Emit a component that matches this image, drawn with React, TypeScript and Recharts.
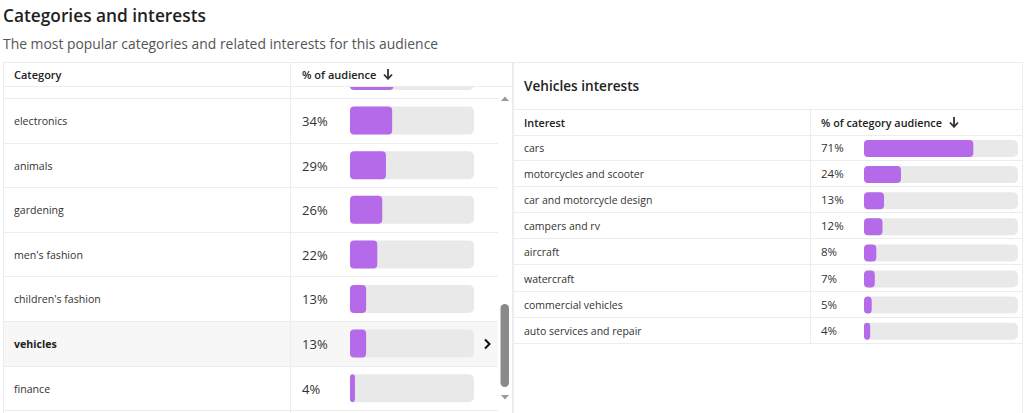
import { BarChart, Bar, XAxis, YAxis } from 'recharts'

// ─── Data ─────────────────────────────────────────────────────────────────────

// first entry is scrolled mostly out of view in the list (only its bar's bottom edge shows)
const categories = ['beauty', 'electronics', 'animals', 'gardening', "men's fashion", "children's fashion", 'vehicles', 'finance']
const categoryShare = [35, 34, 29, 26, 22, 13, 13, 4]
const scrolledOut = 1
const selectedCategory = 'vehicles'

const interests = [
  'cars', 'motorcycles and scooter', 'car and motorcycle design', 'campers and rv',
  'aircraft', 'watercraft', 'commercial vehicles', 'auto services and repair',
]
const interestShare = [71, 24, 13, 12, 8, 7, 5, 4]

// ─── Layout constants ─────────────────────────────────────────────────────────

const FONT = '"Open Sans", "Noto Sans", sans-serif'
const PURPLE = '#b46ae9'
const TRACK = '#e9e9e9'
const LINE = '#ececec'

const LEFT_ROW_H = 44.6
const LEFT_HEADER_BOTTOM = 86
const LEFT_FIRST_ROW = 54.4
const RIGHT_ROW_H = 26.1
const RIGHT_BODY_TOP = 135

// ─── Helpers ──────────────────────────────────────────────────────────────────

function SortArrow() {
  return (
    <svg width={10} height={12} viewBox="0 0 10 12" style={{ marginLeft: 7, flexShrink: 0 }}>
      <path d="M5 1 V10" stroke="#333" strokeWidth={1.8} />
      <path d="M1 6.5 L5 10.8 L9 6.5" stroke="#333" strokeWidth={1.8} fill="none" />
    </svg>
  )
}

function ShareBars({ data, width, height, barSize }: {
  data: { name: string; value: number }[]
  width: number
  height: number
  barSize: number
}) {
  return (
    <BarChart
      layout="vertical"
      data={data}
      width={width}
      height={height}
      margin={{ top: 0, right: 0, bottom: 0, left: 0 }}
    >
      <XAxis type="number" domain={[0, 100]} hide />
      <YAxis type="category" dataKey="name" hide />
      <Bar
        dataKey="value"
        fill={PURPLE}
        barSize={barSize}
        radius={4}
        background={{ fill: TRACK, radius: 5 } as any}
        isAnimationActive={false}
      />
    </BarChart>
  )
}

// ─── Component ────────────────────────────────────────────────────────────────

export default function App() {
  const leftData = categories.map((name, i) => ({ name, value: categoryShare[i] }))
  const rightData = interests.map((name, i) => ({ name, value: interestShare[i] }))

  const abs = (s: React.CSSProperties): React.CSSProperties => ({ position: 'absolute', ...s })
  const head: React.CSSProperties = { fontWeight: 600, color: '#222', display: 'flex', alignItems: 'center', whiteSpace: 'nowrap' }

  return (
    <div style={{
      position: 'fixed', left: 0, top: 0, width: 1024, height: 413, overflow: 'hidden',
      background: '#fff', fontFamily: FONT, color: '#333',
    }}>
      {/* heading */}
      <div style={abs({ left: 3, top: 2, fontSize: 17.3, fontWeight: 600, color: '#1f1f1f', lineHeight: '28px' })}>
        Categories and interests
      </div>
      <div style={abs({ left: 3, top: 32, fontSize: 13.9, color: '#555', lineHeight: '24px' })}>
        The most popular categories and related interests for this audience
      </div>

      {/* ── left table ── */}
      <div style={abs({ left: 3, top: 62, width: 510, height: 360, border: `1px solid ${LINE}`, boxSizing: 'border-box' })} />
      <div style={abs({ left: 14, top: 65, height: 18, fontSize: 11, ...head })}>Category</div>
      <div style={abs({ left: 302, top: 65, height: 18, fontSize: 11, ...head })}>% of audience<SortArrow /></div>
      <div style={abs({ left: 4, top: LEFT_HEADER_BOTTOM, width: 508, height: 1, background: LINE })} />

      <div style={abs({ left: 4, top: LEFT_HEADER_BOTTOM + 1, width: 494, height: 413 - LEFT_HEADER_BOTTOM, overflow: 'hidden' })}>
        {leftData.map((d, i) => {
          const selected = d.name === selectedCategory
          const visible = i >= scrolledOut
          return (
            <div key={d.name} style={abs({
              left: 0, top: LEFT_FIRST_ROW - LEFT_HEADER_BOTTOM - 1 + i * LEFT_ROW_H, width: 494, height: LEFT_ROW_H,
              background: selected ? '#f7f7f7' : 'transparent', borderBottom: `1px solid ${LINE}`, boxSizing: 'border-box',
            })}>
              {visible && (
                <>
                  <div style={abs({ left: 10, top: 0, lineHeight: `${LEFT_ROW_H}px`, fontSize: 10.6, fontWeight: selected ? 700 : 400, color: selected ? '#222' : '#333', whiteSpace: 'nowrap' })}>
                    {d.name}
                  </div>
                  <div style={abs({ left: 298, top: 0, lineHeight: `${LEFT_ROW_H}px`, fontSize: 13 })}>{d.value}%</div>
                </>
              )}
              {selected && (
                <svg style={{ position: 'absolute', left: 479, top: LEFT_ROW_H / 2 - 6 }} width={8} height={12} viewBox="0 0 8 12">
                  <path d="M2 1.5 L6.5 6 L2 10.5" stroke="#111" strokeWidth={2} fill="none" />
                </svg>
              )}
            </div>
          )
        })}
        <div style={abs({ left: 346, top: LEFT_FIRST_ROW - LEFT_HEADER_BOTTOM - 1 })}>
          <ShareBars data={leftData} width={124} height={LEFT_ROW_H * leftData.length} barSize={28} />
        </div>
      </div>
      <div style={abs({ left: 290, top: 63, width: 1, height: 350, background: LINE })} />

      {/* scrollbar */}
      <svg style={{ position: 'absolute', left: 498, top: 89 }} width={14} height={324}>
        <path d="M3 12 L7 7.5 L11 12 Z" fill="#999" />
        <rect x={2.5} y={215} width={8.5} height={83} rx={4.2} fill="#8a8a8a" />
        <path d="M3 306 L11 306 L7 310.5 Z" fill="#999" />
      </svg>

      {/* ── right table ── */}
      <div style={abs({ left: 513, top: 62, width: 510, height: 360, border: `1px solid ${LINE}`, boxSizing: 'border-box' })} />
      <div style={abs({ left: 524, top: 74, fontSize: 13.6, fontWeight: 600, color: '#222', lineHeight: '24px', whiteSpace: 'nowrap' })}>Vehicles interests</div>
      <div style={abs({ left: 514, top: 109, width: 508, height: 1, background: LINE })} />
      <div style={abs({ left: 524, top: 113, height: 18, fontSize: 10.8, ...head })}>Interest</div>
      <div style={abs({ left: 821, top: 113, height: 18, fontSize: 10.8, ...head })}>% of category audience<SortArrow /></div>
      <div style={abs({ left: 514, top: RIGHT_BODY_TOP, width: 508, height: 1, background: LINE })} />
      {rightData.map((d, i) => (
        <div key={d.name} style={abs({
          left: 514, top: RIGHT_BODY_TOP + i * RIGHT_ROW_H, width: 508, height: RIGHT_ROW_H,
          borderBottom: `1px solid ${LINE}`, boxSizing: 'border-box',
        })}>
          <div style={abs({ left: 10, top: 0, lineHeight: `${RIGHT_ROW_H}px`, fontSize: 10.5, whiteSpace: 'nowrap' })}>{d.name}</div>
          <div style={abs({ left: 307, top: 0, lineHeight: `${RIGHT_ROW_H}px`, fontSize: 11.5 })}>{d.value}%</div>
        </div>
      ))}
      <div style={abs({ left: 864, top: RIGHT_BODY_TOP })}>
        <ShareBars data={rightData} width={154} height={RIGHT_ROW_H * rightData.length} barSize={17} />
      </div>
      <div style={abs({ left: 810, top: 110, width: 1, height: RIGHT_BODY_TOP - 110 + RIGHT_ROW_H * rightData.length, background: LINE })} />
    </div>
  )
}
